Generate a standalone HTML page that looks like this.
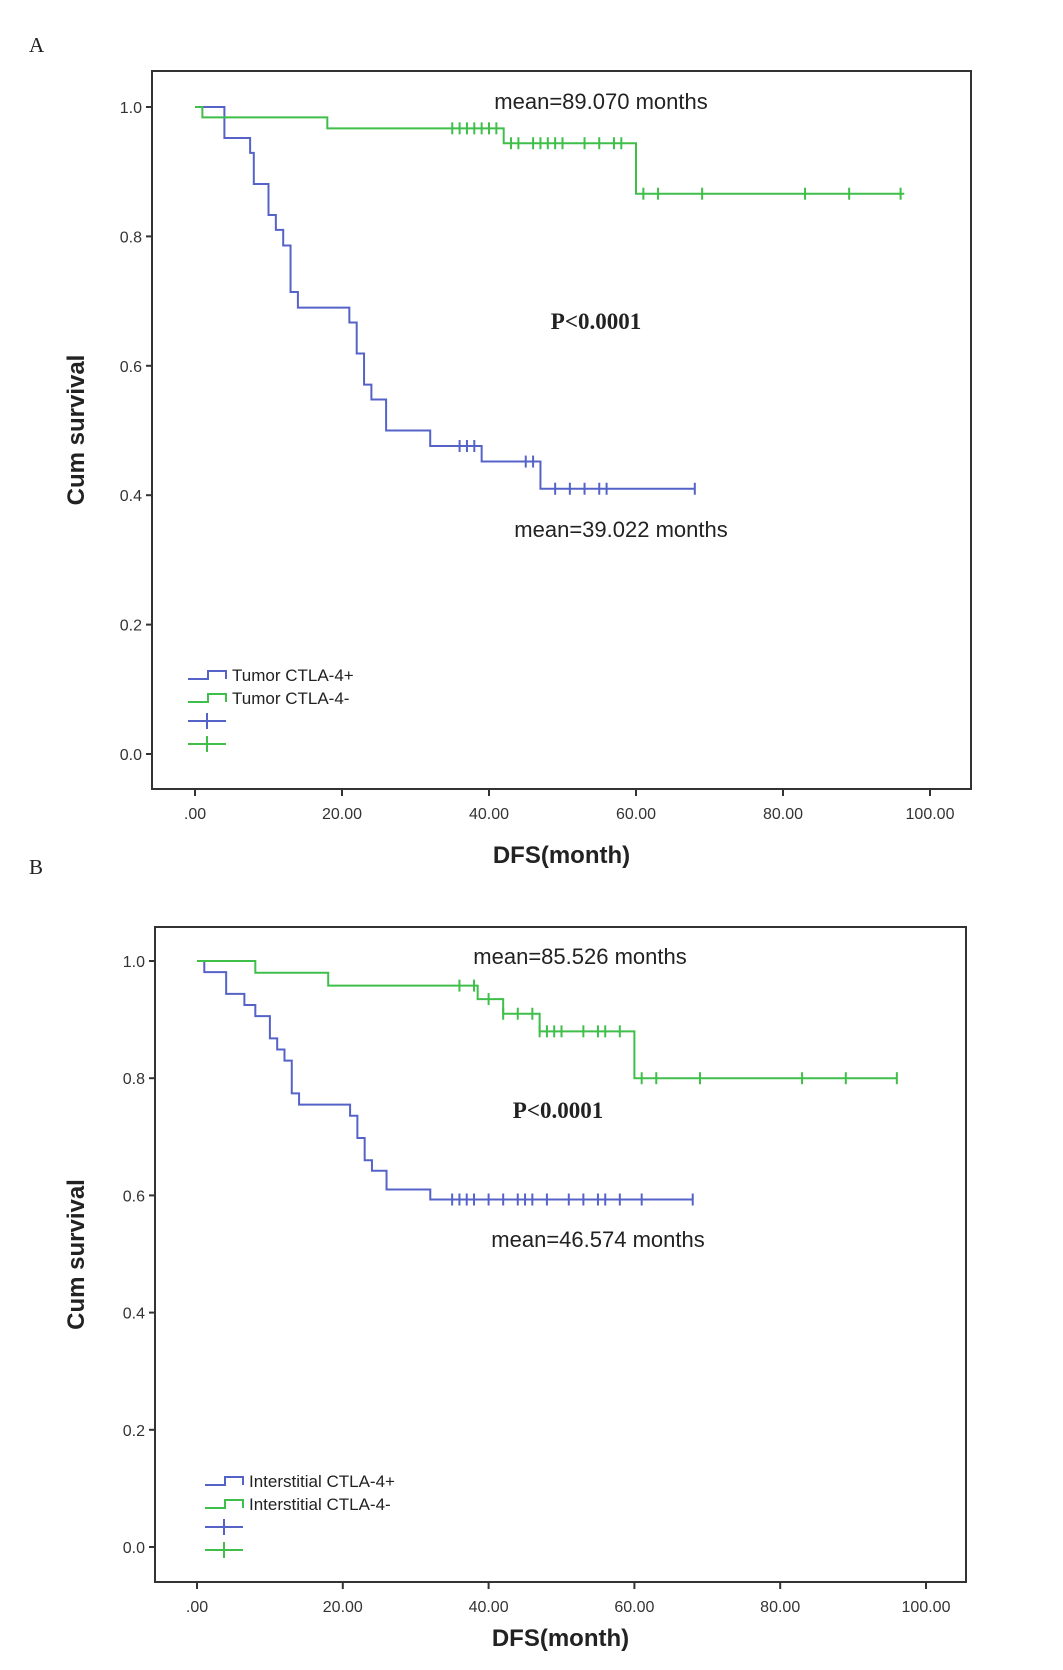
<!DOCTYPE html>
<html><head><meta charset="utf-8"><style>
body{margin:0;background:#fff;}
svg{display:block;}
</style></head><body>
<svg id="fig" width="1063" height="1670" viewBox="0 0 1063 1670" xmlns="http://www.w3.org/2000/svg">
<rect width="1063" height="1670" fill="#fff"/>
</svg>
<script>
// Panel A data
const aBlueTimes=[0,4,7.5,8,10,11,12,13,14,21,22,23,24,26,32,39,47,68];
const aBlueSurv=[1.0,0.952,0.929,0.881,0.833,0.81,0.786,0.714,0.69,0.667,0.619,0.571,0.548,0.5,0.476,0.452,0.41,0.41];
const aBlueCens=[36,37,38,45,46,49,51,53,55,56,68];
const aGreenTimes=[0,1,18,42,60,96.5];
const aGreenSurv=[1.0,0.984,0.967,0.944,0.866,0.866];
const aGreenCens=[35,36,37,38,39,40,41,43,44,46,47,48,49,50,53,55,57,58,61,63,69,83,89,96];
// Panel B data
const bBlueTimes=[0,1,4,6.5,8,10,11,12,13,14,21,22,23,24,26,32,68];
const bBlueSurv=[1.0,0.981,0.944,0.925,0.906,0.868,0.849,0.83,0.774,0.755,0.736,0.698,0.66,0.642,0.61,0.593,0.593];
const bBlueCens=[35,36,37,38,40,42,44,45,46,48,51,53,55,56,58,61,68];
const bGreenTimes=[0,8,18,38.5,42,47,60,96];
const bGreenSurv=[1.0,0.98,0.958,0.935,0.91,0.88,0.8,0.8];
const bGreenCens=[36,38,40,42,44,46,47,48,49,50,53,55,56,58,61,63,69,83,89,96];
const xTicks=[0,20,40,60,80,100];
const xTickLabels=[".00","20.00","40.00","60.00","80.00","100.00"];
const yTicks=[0,0.2,0.4,0.6,0.8,1.0];
const yTickLabels=["0.0","0.2","0.4","0.6","0.8","1.0"];

const NS="http://www.w3.org/2000/svg";
const svg=document.getElementById('fig');
const BLUE="#5563c8", GREEN="#3fbf4a";
const SANS='font-family:"Liberation Sans",sans-serif;';
const SERIF='font-family:"Liberation Serif",serif;';
function mk(tag,attrs,parent){const e=document.createElementNS(NS,tag);for(const k in attrs)e.setAttribute(k,attrs[k]);(parent||svg).appendChild(e);return e;}
function txt(x,y,s,attrs,parent,serif){const t=mk('text',Object.assign({x:x,y:y},attrs),parent);t.setAttribute('style',serif?SERIF:SANS);t.textContent=s;return t;}

function panel(cfg){
  const g=mk('g',{});
  
  
  const X=v=>cfg.x0+(cfg.x100-cfg.x0)*v/100;
  const Y=v=>cfg.y0+(cfg.y1-cfg.y0)*v;
  const L=txt(cfg.labX,cfg.labY,cfg.label,{'font-size':21,fill:'#222'},g,true);
  
  
  const box=mk('rect',{x:cfg.bl,y:cfg.bt,width:cfg.br-cfg.bl,height:cfg.bb-cfg.bt,fill:'none',stroke:'#333','stroke-width':2},g);
  
  
  xTicks.forEach((v,i)=>{
    mk('line',{x1:X(v),x2:X(v),y1:cfg.bb,y2:cfg.bb+7,stroke:'#333','stroke-width':2},g);
    const t=txt(X(v),cfg.bb+30,xTickLabels[i],{'font-size':16,'text-anchor':'middle',fill:'#333'},g);
    
    
  });
  yTicks.forEach((v,i)=>{
    mk('line',{x1:cfg.bl-6,x2:cfg.bl,y1:Y(v),y2:Y(v),stroke:'#333','stroke-width':2},g);
    const t=txt(cfg.bl-10,Y(v)+6,yTickLabels[i],{'font-size':16,'text-anchor':'end',fill:'#333'},g);
    
    
  });
  const xt=txt((cfg.bl+cfg.br)/2,cfg.xTitleY,'DFS(month)',{'font-size':24,'font-weight':'bold','text-anchor':'middle',fill:'#222'},g);
  
  
  const cy=(cfg.bt+cfg.bb)/2;
  const yt=txt(84,cy,'Cum survival',{'font-size':24,'font-weight':'bold','text-anchor':'middle',fill:'#222',transform:'rotate(-90 84 '+cy+')'},g);
  
  
  cfg.series.forEach(s=>{
    let d='M'+X(s.t[0])+','+Y(s.s[0]);
    for(let i=1;i<s.t.length;i++){d+=' H'+X(s.t[i])+' V'+Y(s.s[i]);}
    const p=mk('path',{d:d,fill:'none',stroke:s.c,'stroke-width':2},g);
    
    
    s.cens.forEach(ct=>{
      let sv=s.s[0];
      for(let i=0;i<s.t.length;i++){if(s.t[i]<=ct)sv=s.s[i];}
      const m=mk('line',{x1:X(ct),x2:X(ct),y1:Y(sv)-6,y2:Y(sv)+6,stroke:s.c,'stroke-width':2},g);
      
      
    });
  });
  cfg.annots.forEach(a=>{
    const t=txt(a.x,a.y,a.s,{'font-size':a.serif?23:22,'font-weight':a.serif?'bold':'normal','text-anchor':'middle',fill:'#222'},g,a.serif);
    
    
  });
  // legend
  const lx=cfg.legX, ly=cfg.legY;
  cfg.series.forEach((s,i)=>{
    const y=ly+i*23;
    const lp=mk('path',{d:`M${lx},${y+4} H${lx+20} V${y-4} H${lx+38} V${y+4}`,fill:'none',stroke:s.c,'stroke-width':2},g);
    
    
    const lt=txt(lx+44,y+6,s.label,{'font-size':17,fill:'#222'},g);
    
    
  });
  cfg.series.forEach((s,i)=>{
    const y=ly+(2+i)*23;
    mk('line',{x1:lx,x2:lx+38,y1:y,y2:y,stroke:s.c,'stroke-width':2},g);
    const c=mk('line',{x1:lx+19,x2:lx+19,y1:y-8,y2:y+8,stroke:s.c,'stroke-width':2},g);
    
    
  });
}

panel({name:'panel-a',label:'A',labX:29,labY:52,bl:152,br:971,bt:71,bb:789,x0:195,x100:930,y0:754,y1:107,xTitleY:863,legX:188,legY:675,
  series:[{name:'tumor-ctla4-pos',label:'Tumor CTLA-4+',c:BLUE,t:aBlueTimes,s:aBlueSurv,cens:aBlueCens},
          {name:'tumor-ctla4-neg',label:'Tumor CTLA-4-',c:GREEN,t:aGreenTimes,s:aGreenSurv,cens:aGreenCens}],
  annots:[{x:601,y:109,s:'mean=89.070 months',name:'mean-neg-annotation'},
          {x:596,y:329,s:'P<0.0001',serif:true,name:'p-value'},
          {x:621,y:537,s:'mean=39.022 months',name:'mean-pos-annotation'}]});

panel({name:'panel-b',label:'B',labX:29,labY:874,bl:155,br:966,bt:927,bb:1582,x0:197,x100:926,y0:1547,y1:961,xTitleY:1646,legX:205,legY:1481,
  series:[{name:'interstitial-ctla4-pos',label:'Interstitial CTLA-4+',c:BLUE,t:bBlueTimes,s:bBlueSurv,cens:bBlueCens},
          {name:'interstitial-ctla4-neg',label:'Interstitial CTLA-4-',c:GREEN,t:bGreenTimes,s:bGreenSurv,cens:bGreenCens}],
  annots:[{x:580,y:964,s:'mean=85.526 months',name:'mean-neg-annotation'},
          {x:558,y:1118,s:'P<0.0001',serif:true,name:'p-value'},
          {x:598,y:1247,s:'mean=46.574 months',name:'mean-pos-annotation'}]});
</script>
</body></html>
